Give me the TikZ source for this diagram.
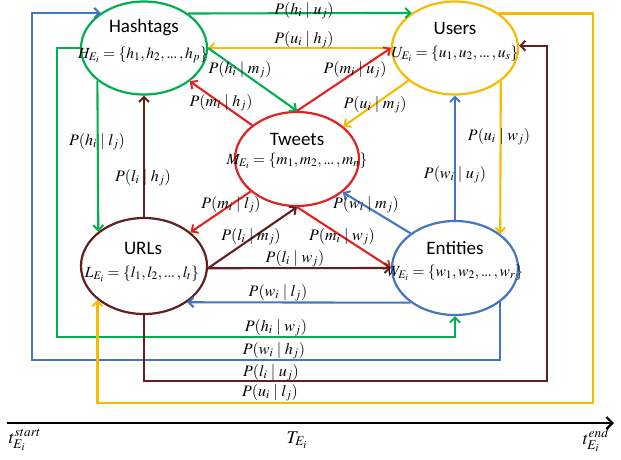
\documentclass[tikz,border=0pt]{standalone}
\usepackage{mathptmx}
\usepackage[no-math]{fontspec}
\newfontfamily\titlefont{Carlito}
\usetikzlibrary{shapes.geometric,arrows.meta}
\definecolor{cgreen}{RGB}{0,176,80}
\definecolor{cblue}{RGB}{68,118,192}
\definecolor{cyellow}{RGB}{246,186,0}
\definecolor{cred}{RGB}{224,34,34}
\definecolor{cbrown}{RGB}{98,32,32}
\newcommand{\sdots}{\mathinner{.\mkern-1mu.\mkern-1mu.}}
\begin{document}
\begin{tikzpicture}[x=1pt,y=-1pt,
  setnode/.style={ellipse,draw,line width=2.2pt,minimum width=126pt,minimum height=93pt,inner sep=0pt},
  ttl/.style={font=\titlefont\fontsize{19}{21}\selectfont},
  frm/.style={font=\fontsize{15.5}{18}\selectfont,inner sep=0pt},
  lbl/.style={font=\fontsize{16}{18}\selectfont,inner sep=1pt},
  axlbl/.style={font=\fontsize{18}{20}\selectfont,inner sep=0pt},
  link/.style={line width=2.1pt,-{Straight Barb[length=5pt,width=10pt,line width=2pt]}},
  axis/.style={line width=2.2pt,-{Straight Barb[length=6pt,width=12pt,line width=2.2pt]}}]
\useasboundingbox (0,0) rectangle (621,459);

% the five sets
\node[setnode,draw=cgreen]  (h) at (144,48)  {};
\node[setnode,draw=cyellow] (u) at (455,48)  {};
\node[setnode,draw=cred,minimum width=124pt,minimum height=94pt] (m) at (297,159) {};
\node[setnode,draw=cbrown,minimum height=96pt] (l) at (144,266) {};
\node[setnode,draw=cblue,minimum height=94pt]  (w) at (455,268) {};

\node[ttl] (ht) at (144,28) {Hashtags};
\node[frm] (hf) at (143,55) {$H_{E_i}=\{h_1,h_2,\sdots,h_p\}$};
\node[ttl] (ut) at (455,28) {Users};
\node[frm] (uf) at (455,54) {$U_{E_i}=\{u_1,u_2,\sdots,u_s\}$};
\node[ttl] (mt) at (297,139) {Tweets};
\node[frm] (mf) at (297,161) {$M_{E_i}=\{m_1,m_2,\sdots,m_n\}$};
\node[ttl] (lt) at (143,248) {URLs};
\node[frm] (lf) at (142,274) {$L_{E_i}=\{l_1,l_2,\sdots,l_t\}$};
\node[ttl] (wt) at (455,248) {Entities};
\node[frm] (wf) at (455,273) {$W_{E_i}=\{w_1,w_2,\sdots,w_r\}$};

% direct links between the sets
\draw[link,cgreen]  (h.38.7)  -- (u.141.3);
\draw[link,cyellow] (u.180)   -- (h.0);
\draw[link,cgreen]  (h.215.6) -- (l.143.3);
\draw[link,cbrown]  (l.90)    -- (h.-90);
\draw[link,cblue]   (w.90)    -- (u.-90);
\draw[link,cyellow] (u.-36.8) -- (w.37.4);
\draw[link,cred]    (m.143.7) -- (h.-36.5);
\draw[link,cgreen]  (h.0)     -- (m.90);
\draw[link,cred]    (m.90)    -- (u.180);
\draw[link,cyellow] (u.215.9) -- (m.35.7);
\draw[link,cred]    (m.215.9) -- (l.36.9);
\draw[link,cbrown]  (l.-2)    -- (m.-90);
\draw[link,cred]    (m.-90)   -- (w.180);
\draw[link,cblue]   (w.142.1) -- (m.-36.5);
\draw[link,cbrown]  (l.-2)    -- (w.180);
\draw[link,cblue]   (w.218)   -- (l.-40.8);

% links routed round the outside
\coordinate (cg) at (57,337);
\coordinate (cb) at (32,360);
\coordinate (cr) at (547,381);
\coordinate (cy) at (593,403);
\draw[link,cgreen]  (h.180)   -| (cg) -| (w.-90);
\draw[link,cblue]   (w.-37.4) |- (cb) |- (h.141.3);
\draw[link,cbrown]  (l.-90)   |- (cr) |- (u.2.5);
\draw[link,cyellow] (u.38.7)  -| (cy) -| (l.216.7);

% conditional probabilities
\node[lbl] (p1)  at (304,11)  {$P(h_i\mid u_j)$};
\node[lbl] (p2)  at (304,40)  {$P(u_i\mid h_j)$};
\node[lbl] (p3)  at (240,70)  {$P(h_i\mid m_j)$};
\node[lbl] (p4)  at (221,103) {$P(m_i\mid h_j)$};
\node[lbl] (p5)  at (355,70)  {$P(m_i\mid u_j)$};
\node[lbl] (p6)  at (375,105) {$P(u_i\mid m_j)$};
\node[lbl] (p7)  at (97,142)  {$P(h_i\mid l_j)$};
\node[lbl] (p8)  at (143,178) {$P(l_i\mid h_j)$};
\node[lbl] (p9)  at (499,137) {$P(u_i\mid w_j)$};
\node[lbl] (p10) at (455,175) {$P(w_i\mid u_j)$};
\node[lbl] (p11) at (231,205) {$P(m_i\mid l_j)$};
\node[lbl] (p12) at (366,205) {$P(w_i\mid m_j)$};
\node[lbl] (p13) at (251,237) {$P(l_i\mid m_j)$};
\node[lbl] (p14) at (342,237) {$P(m_i\mid w_j)$};
\node[lbl] (p15) at (295,259) {$P(l_i\mid w_j)$};
\node[lbl] (p16) at (278,293) {$P(w_i\mid l_j)$};
\node[lbl] (p17) at (276,328) {$P(h_i\mid w_j)$};
\node[lbl] (p18) at (274,351) {$P(w_i\mid h_j)$};
\node[lbl] (p19) at (271,373) {$P(l_i\mid u_j)$};
\node[lbl] (p20) at (270,393) {$P(u_i\mid l_j)$};

% time axis
\coordinate (t0) at (7,423);
\coordinate (t1) at (614,423);
\draw[axis] (t0) -- (t1);
\node[axlbl] (ts) at (25,440)  {$t_{E_i}^{start}$};
\node[axlbl] (tm) at (297,440) {$T_{E_i}$};
\node[axlbl] (te) at (596,440) {$t_{E_i}^{end}$};
\end{tikzpicture}
\end{document}
